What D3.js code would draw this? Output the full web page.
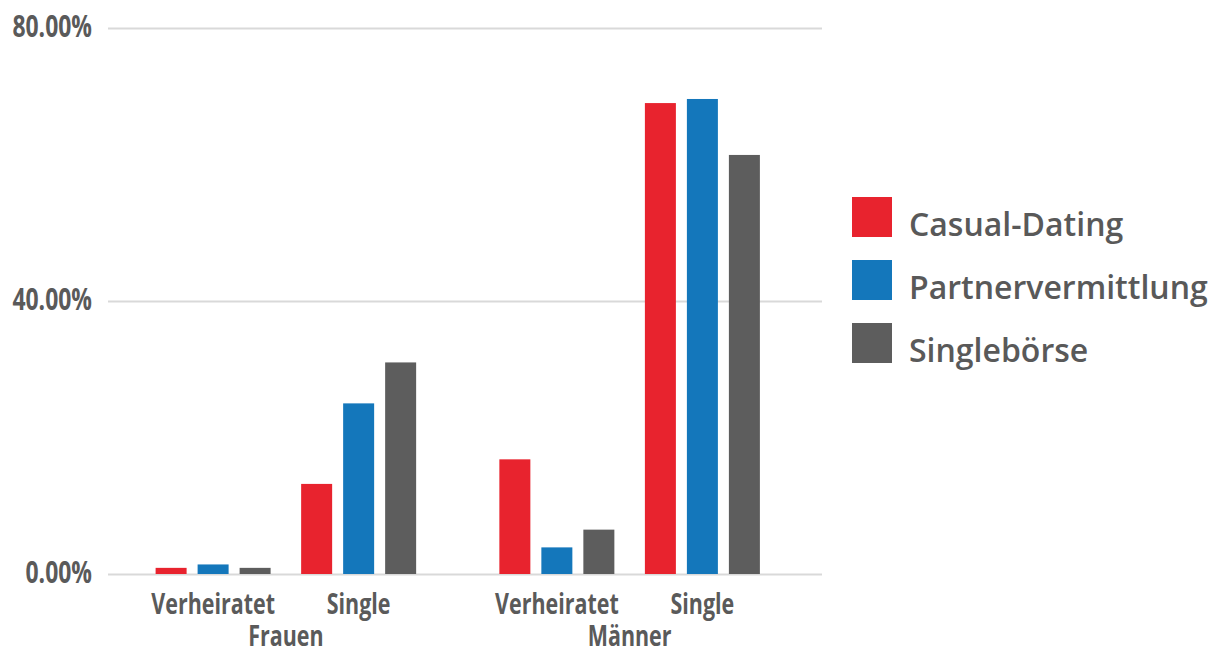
<!DOCTYPE html>
<html>
<head>
<meta charset="utf-8">
<script src="https://cdn.jsdelivr.net/npm/d3@7"></script>
<style>
  html, body { margin: 0; padding: 0; background: #fff; }
  svg { display: block; }
  .tick text, .cat, .grp { font-family: "Open Sans", "Noto Sans", sans-serif; font-weight: 700; fill: #5a5a5a; }
  .legend text { font-family: "Open Sans", "Noto Sans", sans-serif; font-weight: 600; fill: #595959; }
</style>
</head>
<body>
<svg id="chart" width="1225" height="654"></svg>
<script>
// Groups and sub-categories on the x axis
const genders = ["Frauen", "Männer"];
const statuses = ["Verheiratet", "Single"];

// Series (share of users, in %), order: Frauen-Verheiratet, Frauen-Single, Männer-Verheiratet, Männer-Single
const seriesNames = ["Casual-Dating", "Partnervermittlung", "Singlebörse"];
const casualDating = [0.9, 13.2, 16.8, 69.0];
const partnervermittlung = [1.4, 25.0, 3.9, 69.6];
const singleboerse = [0.9, 31.0, 6.5, 61.4];
const seriesColors = ["#e8232e", "#1477bb", "#5d5d5d"];

// Y axis ticks (%)
const yTicks = [0, 40, 80];

// Horizontal squeeze applied to axis text to get a condensed look
const condense = 0.74;

const seriesValues = [casualDating, partnervermittlung, singleboerse];
const rows = [];
genders.forEach((g, gi) => statuses.forEach((s, si) => {
  const idx = gi * statuses.length + si;
  seriesNames.forEach((name, k) => rows.push({ gender: g, status: s, series: name, value: seriesValues[k][idx], color: seriesColors[k] }));
}));

const svg = d3.select("#chart");
const plotLeft = 108, plotRight = 822;

const y = d3.scaleLinear().domain([0, 80]).range([574, 28]);
const x0 = d3.scaleBand().domain(genders).range([114, 801.5]);
const x1 = d3.scalePoint().domain(statuses).range([0, x0.bandwidth()]).padding(0.681);
const xs = d3.scaleBand().domain(seriesNames).range([-57.5, 57.5]).paddingInner(11 / 42);

// Gridlines + tick labels
const yAxis = d3.axisLeft(y)
  .tickValues(yTicks)
  .tickSize(-(plotRight - plotLeft))
  .tickPadding(16)
  .tickFormat(d => d3.format(".2%")(d / 100));

const gy = svg.append("g").attr("transform", `translate(${plotLeft},0)`).call(yAxis);
gy.select(".domain").remove();
gy.selectAll(".tick line").attr("stroke", "#d9d9d9").attr("stroke-width", 2);
gy.selectAll(".tick text")
  .attr("font-size", 31)
  .attr("x", -16 / condense)
  .attr("dy", "0.28em")
  .attr("transform", `scale(${condense},1)`);

// Bars
svg.append("g").selectAll("rect").data(rows).join("rect")
  .attr("x", d => x0(d.gender) + x1(d.status) + xs(d.series))
  .attr("y", d => y(d.value))
  .attr("width", xs.bandwidth())
  .attr("height", d => y(0) - y(d.value))
  .attr("fill", d => d.color);

// Category labels
genders.forEach(g => {
  statuses.forEach(s => {
    svg.append("text").attr("class", "cat")
      .attr("transform", `translate(${x0(g) + x1(s)},614) scale(${condense},1)`)
      .attr("text-anchor", "middle").attr("font-size", 29)
      .text(s);
  });
  svg.append("text").attr("class", "grp")
    .attr("transform", `translate(${x0(g) + x0.bandwidth() / 2},646) scale(${condense},1)`)
    .attr("text-anchor", "middle").attr("font-size", 29)
    .text(g);
});

// Legend
const legend = svg.append("g").attr("class", "legend").attr("transform", "translate(852,197)");
const ly = d3.scalePoint().domain(seriesNames).range([0, 126]);
seriesNames.forEach((name, i) => {
  legend.append("rect").attr("x", 0).attr("y", ly(name)).attr("width", 40).attr("height", 40).attr("fill", seriesColors[i]);
  legend.append("text").attr("x", 57).attr("y", ly(name) + 39).attr("font-size", 32).text(name);
});
</script>
</body>
</html>
